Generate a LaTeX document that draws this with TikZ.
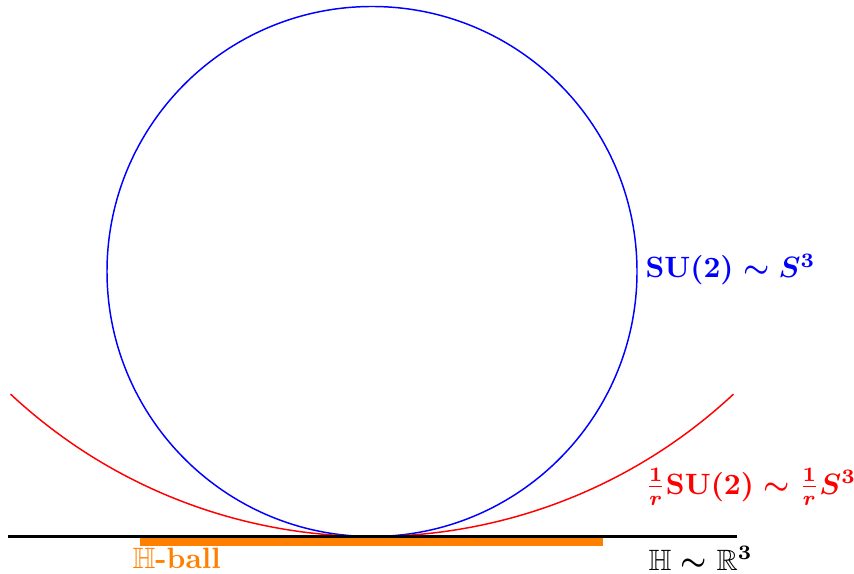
\documentclass[tikz,border=0pt]{standalone}
\usepackage{amsmath,amssymb}
\definecolor{ballorange}{RGB}{255,128,0}
\tikzset{
  lbl/.style={inner sep=0pt, anchor=base west, font=\boldmath},
}
\begin{document}
\begin{tikzpicture}[x=0.34pt,y=0.34pt]
\useasboundingbox (0,0) rectangle (854,573);
% blue circle SU(2)
\coordinate (cb) at (372,301.5);
\draw[blue, line width=0.5pt] (cb) circle[radius=265];
% red arc (radius 2x)
\coordinate (cr) at (372,566.5);
\draw[red, line width=0.5pt] ([shift={(227:530)}]cr) arc[start angle=227, end angle=313, radius=530];
% orange H-ball bar
\fill[ballorange] (140,27.5) rectangle (603,36.2);
% black line H
\coordinate (hl) at (8,36.5);
\coordinate (hr) at (737,36.5);
\draw[black, line width=0.9pt] (hl) -- (hr);
% labels
\node[lbl, text=blue] (lsu) at (645,295) {$\mathbf{SU(2)}\sim S^3$};
\node[lbl, text=red] (lrsu) at (645,79) {$\frac{1}{r}\mathbf{SU(2)}\sim\frac{1}{r}S^3$};
\node[lbl, text=ballorange] (lball) at (132,5) {\textbf{$\mathbb{H}$-ball}};
\node[lbl, text=black] (lh) at (648,3) {$\mathbb{H}\sim\mathbb{R}^3$};
\end{tikzpicture}
\end{document}
